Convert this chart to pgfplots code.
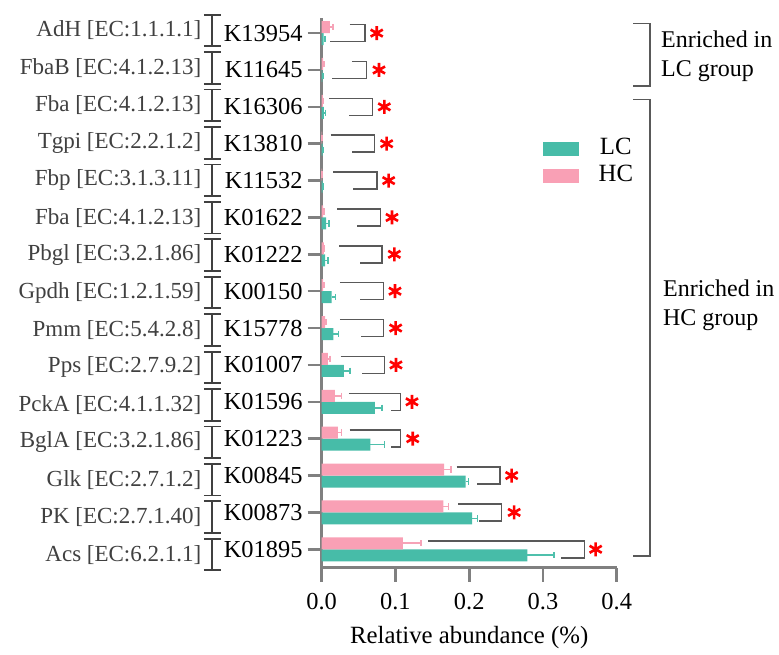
\documentclass[border=0pt]{standalone}
\usepackage{fontspec}
\setmainfont{LiberationSerif}[Extension=.ttf, UprightFont=*-Regular, BoldFont=*-Bold,
    ItalicFont=*-Italic, BoldItalicFont=*-BoldItalic]
\setsansfont{LiberationSerif}[Extension=.ttf, UprightFont=*-Regular, BoldFont=*-Bold,
    ItalicFont=*-Italic, BoldItalicFont=*-BoldItalic]
\usepackage{pgfplots}
\pgfplotsset{compat=1.18}

\definecolor{lcteal}{HTML}{47BCA8}
\definecolor{hcpink}{HTML}{F9A0B5}
\definecolor{lcerr}{HTML}{4FC0AC}
\definecolor{hcerr}{HTML}{F6A3B7}
\definecolor{axisgray}{HTML}{808080}
\definecolor{brgray}{HTML}{595959}
\definecolor{labgray}{HTML}{404040}

\begin{document}
\begin{tikzpicture}[font=\rmfamily]
\begin{axis}[
    scale only axis,
    width=147.5pt, height=274.85pt,
    xmin=0, xmax=0.4, ymin=-0.5, ymax=14.41,
    axis x line*=bottom, axis y line*=left,
    axis line style={axisgray, line width=1.3pt},
    tick style={axisgray, line width=1.3pt},
    tick align=outside,
    major tick length=7pt,
    xtick={0,0.1,0.2,0.3,0.4},
    xticklabels={0.0,0.1,0.2,0.3,0.4},
    ytick={0,...,14},
    yticklabels={K01895,K00873,K00845,K01223,K01596,K01007,K15778,K00150,
                 K01222,K01622,K11532,K13810,K16306,K11645,K13954},
    tick label style={font=\rmfamily\fontsize{12.2}{14}\selectfont},
    yticklabel style={inner sep=0pt, xshift=-2.4pt},
    xticklabel style={yshift=-2pt},
    xlabel={Relative abundance (\%)},
    xlabel style={font=\rmfamily\fontsize{12.4}{14}\selectfont, at={(axis description cs:0.5,0)}, anchor=center, yshift=-35pt},
    clip=false,
    legend image code/.code={\fill[#1] (0pt,-3.5pt) rectangle (18pt,3.5pt);},
    legend style={draw=none, fill=none, at={(axis cs:0.299,11.15)}, anchor=north west,
                  inner sep=0pt, row sep=3.6pt, column sep=10pt,
                  font=\rmfamily\fontsize{12.4}{14}\selectfont,
                  nodes={inner sep=0pt, text height=8pt, text depth=2pt}},
]

% LC
\addplot[xbar, bar width=6pt, bar shift=-3pt, fill=lcteal, draw=none,
         error bars/.cd, x dir=plus, x explicit,
         error bar style={lcerr, line width=0.8pt, yshift=-3pt},
         error mark options={lcerr, line width=0.8pt, mark size=1.6pt, rotate=90}]
coordinates {
    (0.279,0)   +- (0.036,0)
    (0.204,1)   +- (0.007,0)
    (0.195,2)   +- (0.004,0)
    (0.066,3)   +- (0.019,0)
    (0.072,4)   +- (0.010,0)
    (0.030,5)   +- (0.008,0)
    (0.016,6)   +- (0.007,0)
    (0.0135,7)  +- (0.005,0)
    (0.0045,8)  +- (0.004,0)
    (0.006,9)   +- (0.004,0)
    (0.0012,10) +- (0.0005,0)
    (0.0012,11) +- (0.0005,0)
    (0.003,12)  +- (0.002,0)
    (0.001,13)  +- (0.0005,0)
    (0.0025,14) +- (0.002,0)
};

% HC
\addplot[xbar, bar width=6pt, bar shift=3pt, fill=hcpink, draw=none,
         error bars/.cd, x dir=plus, x explicit,
         error bar style={hcerr, line width=0.8pt, yshift=3pt},
         error mark options={hcerr, line width=0.8pt, mark size=1.6pt, rotate=90}]
coordinates {
    (0.110,0)   +- (0.025,0)
    (0.165,1)   +- (0.007,0)
    (0.166,2)   +- (0.009,0)
    (0.022,3)   +- (0.005,0)
    (0.018,4)   +- (0.009,0)
    (0.0085,5)  +- (0.003,0)
    (0.0045,6)  +- (0.001,0)
    (0.002,7)   +- (0.001,0)
    (0.003,8)   +- (0.001,0)
    (0.002,9)   +- (0.001,0)
    (0.0005,10) +- (0.0003,0)
    (0.0005,11) +- (0.0003,0)
    (0.0015,12) +- (0.0005,0)
    (0.002,13)  +- (0.001,0)
    (0.011,14)  +- (0.004,0)
};
\legend{LC,HC}

% significance brackets
\addplot[forget plot, brgray, line width=0.75pt, mark=none, unbounded coords=jump]
coordinates {
    (0.1446,0.23) (0.356,0.23) (0.356,-0.23) (0.3245,-0.23) (nan,nan)
    (0.185,1.23) (0.244,1.23) (0.244,0.77) (0.213,0.77) (nan,nan)
    (0.183,2.23) (0.242,2.23) (0.242,1.77) (0.210,1.77) (nan,nan)
    (0.038,3.23) (0.107,3.23) (0.107,2.77) (0.0935,2.77) (nan,nan)
    (0.037,4.23) (0.107,4.23) (0.107,3.77) (0.0935,3.77) (nan,nan)
    (0.0257,5.23) (0.085,5.23) (0.085,4.77) (0.054,4.77) (nan,nan)
    (0.0248,6.23) (0.0836,6.23) (0.0836,5.77) (0.0533,5.77) (nan,nan)
    (0.0248,7.23) (0.0836,7.23) (0.0836,6.77) (0.052,6.77) (nan,nan)
    (0.024,8.23) (0.082,8.23) (0.082,7.77) (0.052,7.77) (nan,nan)
    (0.021,9.23) (0.0795,9.23) (0.0795,8.77) (0.048,8.77) (nan,nan)
    (0.0158,10.23) (0.075,10.23) (0.075,9.77) (0.0429,9.77) (nan,nan)
    (0.0122,11.23) (0.0714,11.23) (0.0714,10.77) (0.0407,10.77) (nan,nan)
    (0.0103,12.23) (0.069,12.23) (0.069,11.77) (0.0375,11.77) (nan,nan)
    (0.041,13.23) (0.061,13.23) (0.061,12.77) (0.0136,12.77) (nan,nan)
    (0.038,14.23) (0.0587,14.23) (0.0587,13.77) (0.011,13.77)
};

% asterisks
\addplot[forget plot, only marks, mark=asterisk, red, mark size=3.5pt, mark options={line width=1.3pt}]
coordinates {
    (0.3715,0) (0.261,1) (0.2576,2) (0.1234,3) (0.1224,4) (0.1007,5) (0.1003,6)
    (0.0994,7) (0.0985,8) (0.0953,9) (0.0908,10) (0.0881,11) (0.0849,12)
    (0.0777,13) (0.0746,14)
};

% group brackets on the right
\addplot[forget plot, brgray, line width=0.75pt, mark=none, unbounded coords=jump]
coordinates {
    (0.4225,14.26) (0.445,14.26) (0.445,12.57) (0.4225,12.57) (nan,nan)
    (0.4225,12.20) (0.445,12.20) (0.445,-0.18) (0.4225,-0.18)
};
\node[anchor=west, align=left, inner sep=0pt, font=\rmfamily\fontsize{12}{14.5}\selectfont]
    at (axis cs:0.4597,13.38) {Enriched in\\LC group};
\node[anchor=west, align=left, inner sep=0pt, font=\rmfamily\fontsize{12}{14.5}\selectfont]
    at (axis cs:0.4624,6.62) {Enriched in\\HC group};

% separators between the enzyme names and the KO numbers
\pgfplotsinvokeforeach{-0.144,0.871,1.887,2.902,3.917,4.933,5.948,6.963,7.978,8.994,10.009,11.024,12.04,13.055,14.07}{
  \draw[labgray, line width=0.9pt] (axis cs:-0.1483,#1) ++(-4.2pt,7.9pt) -- ++(8.4pt,0pt)
       ++(-4.2pt,0pt) -- ++(0pt,-15.8pt) ++(-4.2pt,0pt) -- ++(8.4pt,0pt);
}

% enzyme names
\begin{scope}[every node/.style={anchor=east, inner sep=0pt, text=labgray, font=\rmfamily\fontsize{11.5}{13}\selectfont}]
\node at (axis cs:-0.1627,-0.144) {Acs [EC:6.2.1.1]};
\node at (axis cs:-0.1627,0.871)  {PK [EC:2.7.1.40]};
\node at (axis cs:-0.1627,1.887)  {Glk [EC:2.7.1.2]};
\node at (axis cs:-0.1627,2.902)  {BglA [EC:3.2.1.86]};
\node at (axis cs:-0.1627,3.917)  {PckA [EC:4.1.1.32]};
\node at (axis cs:-0.1627,4.933)  {Pps [EC:2.7.9.2]};
\node at (axis cs:-0.1627,5.948)  {Pmm [EC:5.4.2.8]};
\node at (axis cs:-0.1627,6.963)  {Gpdh [EC:1.2.1.59]};
\node at (axis cs:-0.1627,7.978)  {Pbgl [EC:3.2.1.86]};
\node at (axis cs:-0.1627,8.994)  {Fba [EC:4.1.2.13]};
\node at (axis cs:-0.1627,10.009) {Fbp [EC:3.1.3.11]};
\node at (axis cs:-0.1627,11.024) {Tgpi [EC:2.2.1.2]};
\node at (axis cs:-0.1627,12.04)  {Fba [EC:4.1.2.13]};
\node at (axis cs:-0.1627,13.055) {FbaB [EC:4.1.2.13]};
\node at (axis cs:-0.1627,14.07)  {AdH [EC:1.1.1.1]};
\end{scope}
\end{axis}
\pgfresetboundingbox
\useasboundingbox (-160.85pt,-43.15pt) rectangle (228.65pt,283.85pt);
\end{tikzpicture}
\end{document}
